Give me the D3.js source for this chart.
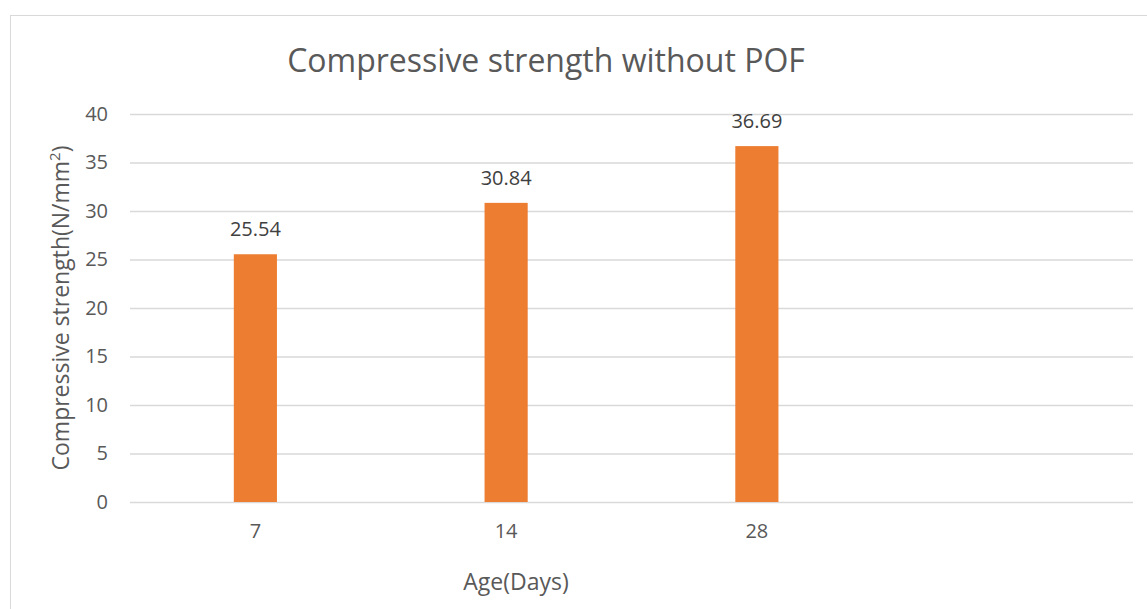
<!DOCTYPE html>
<html>
<head>
<meta charset="utf-8">
<script src="https://cdn.jsdelivr.net/npm/d3@7"></script>
<style>
  body { margin: 0; background: #fff; }
  svg text { font-family: "Open Sans", "Noto Sans", sans-serif; }
</style>
</head>
<body>
<div id="chart"></div>
<script>
// data
const categories = ["7", "14", "28", ""];
const values = [25.54, 30.84, 36.69, null];
const yTicks = [0, 5, 10, 15, 20, 25, 30, 35, 40];

const width = 1147, height = 609;
const margin = { top: 114, right: 14, bottom: 107, left: 130 };

const svg = d3.select("#chart").append("svg")
  .attr("width", width)
  .attr("height", height);

// chart frame
svg.append("rect")
  .attr("x", 10.5).attr("y", 15.5)
  .attr("width", width + 20).attr("height", height + 20)
  .attr("fill", "none")
  .attr("stroke", "#d9d9d9");

const x = d3.scaleBand()
  .domain(categories)
  .range([margin.left, width - margin.right])
  .padding(0);

const y = d3.scaleLinear()
  .domain([0, 40])
  .range([height - margin.bottom, margin.top]);

// gridlines + y labels
const yAxis = svg.append("g")
  .attr("transform", `translate(${margin.left},0)`)
  .call(d3.axisLeft(y).tickValues(yTicks).tickSize(-(width - margin.left - margin.right)).tickPadding(22));
yAxis.select(".domain").remove();
yAxis.selectAll(".tick line").attr("stroke", "#d9d9d9").attr("stroke-width", 1.3);
yAxis.selectAll(".tick text")
  .attr("fill", "#595959")
  .style("font-size", "20px");

// bars
const barW = x.bandwidth() * 0.172;
const data = categories.map((c, i) => ({ cat: c, value: values[i] })).filter(d => d.value != null);

svg.append("g")
  .selectAll("rect")
  .data(data)
  .join("rect")
  .attr("x", d => x(d.cat) + x.bandwidth() / 2 - barW / 2)
  .attr("y", d => y(d.value))
  .attr("width", barW)
  .attr("height", d => y(0) - y(d.value))
  .attr("fill", "#ed7d31");

// data labels
svg.append("g")
  .selectAll("text")
  .data(data)
  .join("text")
  .attr("x", d => x(d.cat) + x.bandwidth() / 2)
  .attr("y", d => y(d.value) - 18)
  .attr("text-anchor", "middle")
  .attr("fill", "#404040")
  .style("font-size", "20px")
  .text(d => d.value.toFixed(2));

// x axis labels
const xAxis = svg.append("g")
  .attr("transform", `translate(0,${y(0)})`)
  .call(d3.axisBottom(x).tickSize(0).tickPadding(22));
xAxis.select(".domain").remove();
xAxis.selectAll(".tick text")
  .attr("fill", "#595959")
  .style("font-size", "20px");

// title
svg.append("text")
  .attr("x", 546)
  .attr("y", 72)
  .attr("text-anchor", "middle")
  .attr("fill", "#595959")
  .style("font-size", "32px")
  .text("Compressive strength without POF");

// axis titles
svg.append("text")
  .attr("x", 516)
  .attr("y", 590)
  .attr("text-anchor", "middle")
  .attr("fill", "#595959")
  .style("font-size", "23px")
  .text("Age(Days)");

const yTitle = svg.append("text")
  .attr("transform", `translate(69,308) rotate(-90)`)
  .attr("text-anchor", "middle")
  .attr("fill", "#595959")
  .style("font-size", "23px");
yTitle.append("tspan").text("Compressive strength(N/mm");
yTitle.append("tspan").attr("dy", -9).style("font-size", "15px").text("2");
yTitle.append("tspan").attr("dy", 9).text(")");
</script>
</body>
</html>
